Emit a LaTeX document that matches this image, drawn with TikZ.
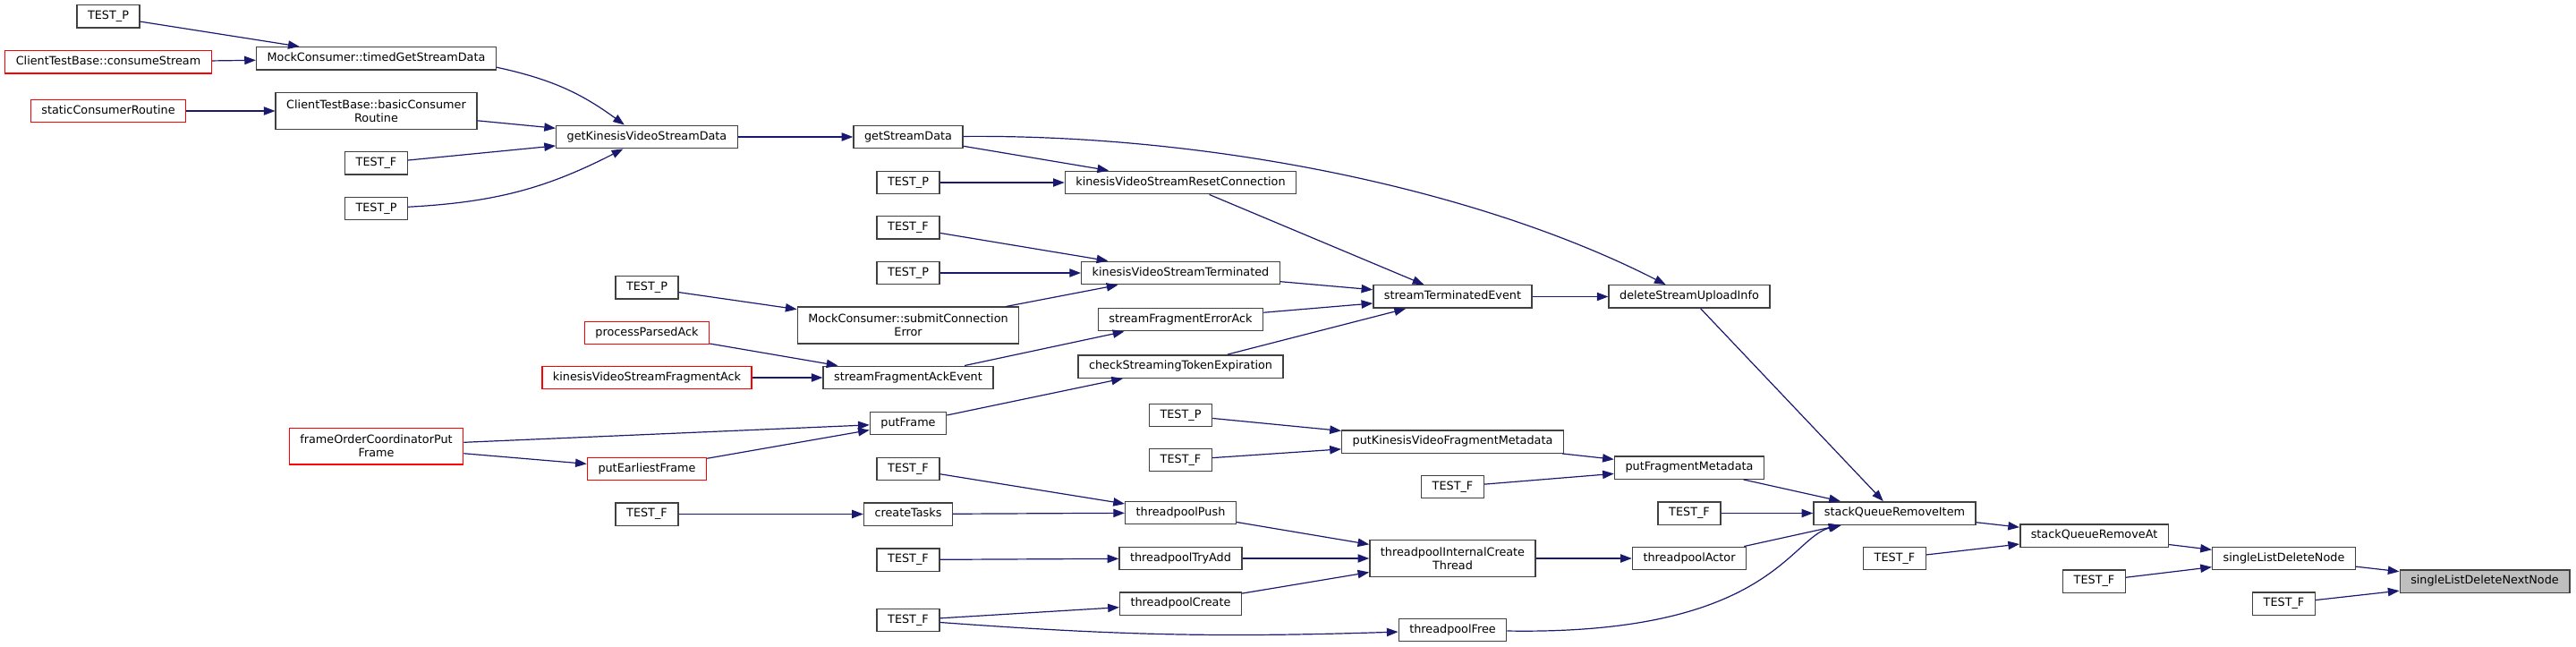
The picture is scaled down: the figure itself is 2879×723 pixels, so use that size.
\documentclass[tikz,border=0pt]{standalone}
\usepackage{fontspec}
\setmainfont{DejaVu Sans}
\usepackage{tikz}
\usetikzlibrary{arrows.meta}
\definecolor{EdgeBlue}{HTML}{191970}
\definecolor{BoxGrey}{HTML}{404040}
\definecolor{FocusGrey}{HTML}{BFBFBF}

\begin{document}
\begin{tikzpicture}[x=0.75pt, y=-0.75pt,
  fn/.style={draw=BoxGrey, line width=1.1pt, fill=white, inner xsep=9pt, inner ysep=0pt,
    minimum height=19.1pt, text height=7.2pt, text depth=2.2pt, font=\fontsize{9.6}{11}\selectfont},
  fn2/.style={fn, align=center, text height={}, text depth={}, minimum height=30.4pt},
  trunc/.style={draw=red},
  focus/.style={fill=FocusGrey},
  call/.style={draw=EdgeBlue, line width=0.9pt, -{Triangle[length=9.5pt, width=7pt]}}]
        \useasboundingbox (0,0) rectangle (2879,723);

        \node[fn] (testP1) at (121,18.5) {TEST\_P};
        \node[fn, trunc] (consumeStream) at (121,69.5) {ClientTestBase::consumeStream};
        \node[fn, trunc] (staticRoutine) at (121,124) {staticConsumerRoutine};

        \node[fn] (timedGet) at (420.5,65.5) {MockConsumer::timedGetStreamData};
        \node[fn2] (basicRoutine) at (420.5,124) {ClientTestBase::basicConsumer\\Routine};
        \node[fn] (testF1) at (420.5,182.5) {TEST\_F};
        \node[fn] (testP2) at (420.5,233) {TEST\_P};
        \node[fn2, trunc] (frameOrder) at (420.5,498.5) {frameOrderCoordinatorPut\\Frame};

        \node[fn] (getKvsData) at (723,153) {getKinesisVideoStreamData};
        \node[fn] (testP3) at (723,321.5) {TEST\_P};
        \node[fn, trunc] (parsedAck) at (723,372) {processParsedAck};
        \node[fn, trunc] (fragAck) at (723,422) {kinesisVideoStreamFragmentAck};
        \node[fn, trunc] (putEarliest) at (723,524) {putEarliestFrame};
        \node[fn] (testF2) at (723,574.5) {TEST\_F};

        \node[fn] (getData) at (1015,153) {getStreamData};
        \node[fn] (testP4) at (1015,204) {TEST\_P};
        \node[fn] (testF3) at (1015,254.5) {TEST\_F};
        \node[fn] (testP5) at (1015,305) {TEST\_P};
        \node[fn2] (submitErr) at (1015,363.5) {MockConsumer::submitConnection\\Error};
        \node[fn] (fragAckEvent) at (1015,422) {streamFragmentAckEvent};
        \node[fn] (putFrame) at (1015,473) {putFrame};
        \node[fn] (testF4) at (1015,524) {TEST\_F};
        \node[fn] (createTasks) at (1015,574.5) {createTasks};
        \node[fn] (testF5) at (1015,625.5) {TEST\_F};
        \node[fn] (testF6) at (1015,693) {TEST\_F};

        \node[fn] (resetConn) at (1319.5,204) {kinesisVideoStreamResetConnection};
        \node[fn] (terminated) at (1319.5,305) {kinesisVideoStreamTerminated};
        \node[fn] (fragErrAck) at (1319.5,357) {streamFragmentErrorAck};
        \node[fn] (tokenExp) at (1319.5,409.5) {checkStreamingTokenExpiration};
        \node[fn] (testP6) at (1319.5,464) {TEST\_P};
        \node[fn] (testF7) at (1319.5,514) {TEST\_F};
        \node[fn] (poolPush) at (1319.5,573) {threadpoolPush};
        \node[fn] (poolTryAdd) at (1319.5,624) {threadpoolTryAdd};
        \node[fn] (poolCreate) at (1319.5,674.5) {threadpoolCreate};

        \node[fn] (termEvent) at (1623.5,331.5) {streamTerminatedEvent};
        \node[fn] (putKvsMeta) at (1623.5,493.5) {putKinesisVideoFragmentMetadata};
        \node[fn] (testF8) at (1623.5,544) {TEST\_F};
        \node[fn2] (poolThread) at (1623.5,624) {threadpoolInternalCreate\\Thread};
        \node[fn] (poolFree) at (1623.5,704) {threadpoolFree};

        \node[fn] (deleteInfo) at (1888,331.5) {deleteStreamUploadInfo};
        \node[fn] (fragMeta) at (1888,522.5) {putFragmentMetadata};
        \node[fn] (testF9) at (1888,573.5) {TEST\_F};
        \node[fn] (poolActor) at (1888,624) {threadpoolActor};

        \node[fn] (removeItem) at (2117.5,573.5) {stackQueueRemoveItem};
        \node[fn] (testF10) at (2117.5,624) {TEST\_F};
        \node[fn] (removeAt) at (2340.5,598.5) {stackQueueRemoveAt};
        \node[fn] (testF11) at (2340.5,649.5) {TEST\_F};
        \node[fn] (deleteNode) at (2552.5,624) {singleListDeleteNode};
        \node[fn] (testF12) at (2552.5,674.5) {TEST\_F};
        \node[fn, focus] (deleteNext) at (2777,649.5) {singleListDeleteNextNode};

        \draw[call] (testP1) -- (timedGet);
        \draw[call] (consumeStream) -- (timedGet);
        \draw[call] (staticRoutine) -- (basicRoutine);
        \draw[call] (timedGet) to[bend left=12] (getKvsData);
        \draw[call] (basicRoutine) -- (getKvsData);
        \draw[call] (testF1) -- (getKvsData);
        \draw[call] (testP2) to[bend right=12] (getKvsData);
        \draw[call] (getKvsData) -- (getData);
        \draw[call] (getData) -- (resetConn);
        \draw[call] (getData) .. controls (1350,150) and (1650,210) .. (deleteInfo);
        \draw[call] (testP4) -- (resetConn);
        \draw[call] (testF3) -- (terminated);
        \draw[call] (testP5) -- (terminated);
        \draw[call] (testP3) -- (submitErr);
        \draw[call] (submitErr) -- (terminated);
        \draw[call] (parsedAck) -- (fragAckEvent);
        \draw[call] (fragAck) -- (fragAckEvent);
        \draw[call] (fragAckEvent) -- (fragErrAck);
        \draw[call] (frameOrder) -- (putFrame);
        \draw[call] (frameOrder) -- (putEarliest);
        \draw[call] (putEarliest) -- (putFrame);
        \draw[call] (putFrame) -- (tokenExp);
        \draw[call] (resetConn) -- (termEvent);
        \draw[call] (terminated) -- (termEvent);
        \draw[call] (fragErrAck) -- (termEvent);
        \draw[call] (tokenExp) -- (termEvent);
        \draw[call] (termEvent) -- (deleteInfo);
        \draw[call] (deleteInfo) -- (removeItem);
        \draw[call] (testP6) -- (putKvsMeta);
        \draw[call] (testF7) -- (putKvsMeta);
        \draw[call] (putKvsMeta) -- (fragMeta);
        \draw[call] (testF8) -- (fragMeta);
        \draw[call] (fragMeta) -- (removeItem);
        \draw[call] (testF9) -- (removeItem);
        \draw[call] (testF4) -- (poolPush);
        \draw[call] (testF2) -- (createTasks);
        \draw[call] (createTasks) -- (poolPush);
        \draw[call] (testF5) -- (poolTryAdd);
        \draw[call] (testF6) -- (poolCreate);
        \draw[call] (testF6) to[bend right=3] (poolFree);
        \draw[call] (poolPush) -- (poolThread);
        \draw[call] (poolTryAdd) -- (poolThread);
        \draw[call] (poolCreate) -- (poolThread);
        \draw[call] (poolThread) -- (poolActor);
        \draw[call] (poolActor) -- (removeItem);
        \draw[call] (poolFree) .. controls (1980,710) and (2000,600) .. (removeItem);
        \draw[call] (removeItem) -- (removeAt);
        \draw[call] (testF10) -- (removeAt);
        \draw[call] (removeAt) -- (deleteNode);
        \draw[call] (testF11) -- (deleteNode);
        \draw[call] (deleteNode) -- (deleteNext);
        \draw[call] (testF12) -- (deleteNext);
      \end{tikzpicture}
\end{document}
